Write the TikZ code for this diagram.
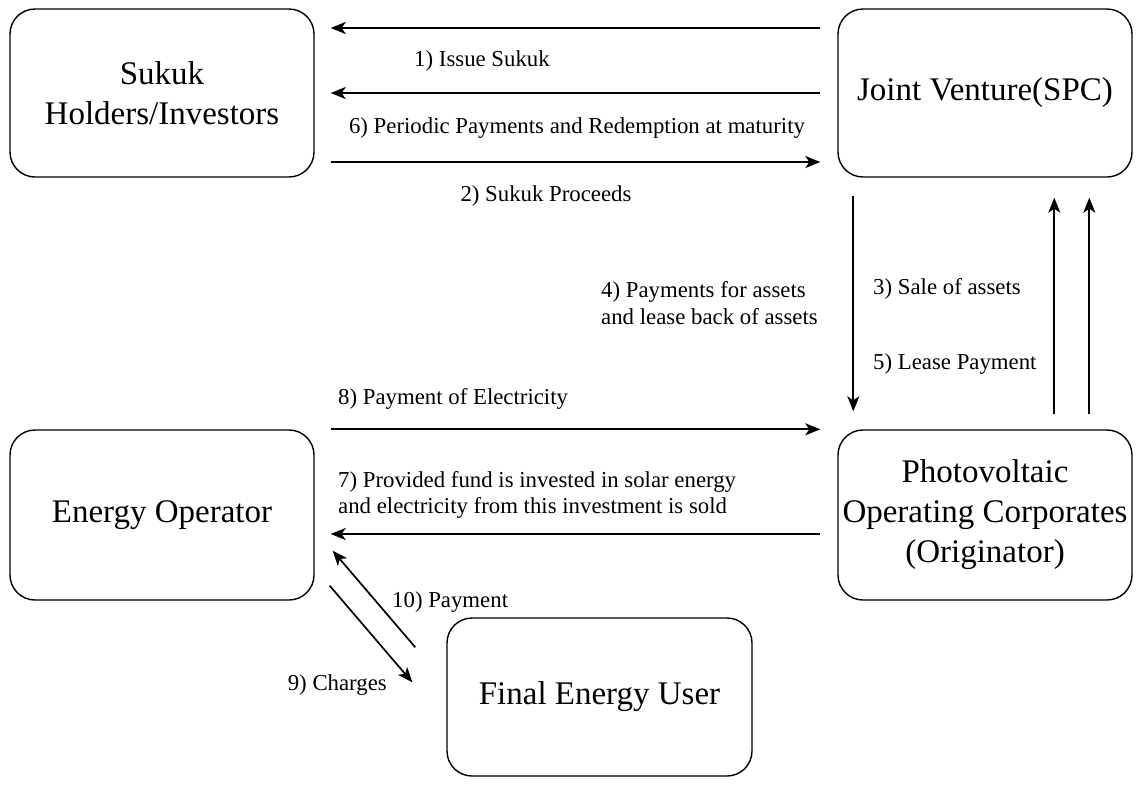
\documentclass[tikz,border=0pt]{standalone}
\usepackage{fontspec}
\setmainfont{Liberation Serif}
\usetikzlibrary{arrows.meta,calc}
\begin{document}
\begin{tikzpicture}[x=1pt,y=-1pt,
  party/.style={draw,line width=1.4pt,rounded corners=25pt,align=center,
    font=\fontsize{33}{40}\selectfont,inner sep=0pt},
  flow/.style={line width=1.7pt,-{Stealth[length=15pt,width=12pt,inset=4pt]}},
  lbl/.style={font=\fontsize{22.8}{26.5}\selectfont,inner sep=0pt}]
\useasboundingbox (0,0) rectangle (1140,785);

% participants
\node[party,minimum width=304pt,minimum height=168pt] (Sukuk) at (162,93) {Sukuk\\Holders/Investors};
\node[party,minimum width=294pt,minimum height=168pt] (JV) at (985,93) {Joint Venture(SPC)};
\node[party,minimum width=304pt,minimum height=170pt] (EO) at (162,515) {Energy Operator};
\node[party,minimum width=294pt,minimum height=170pt] (PV) at (985,515) {Photovoltaic\\Operating Corporates\\(Originator)};
\node[party,minimum width=305pt,minimum height=158pt] (FEU) at (599.5,697) {Final Energy User};

% sukuk issuance and payments
\draw[flow,shorten <=17pt,shorten >=16pt] ([yshift=65pt]JV.west) -- ([yshift=65pt]Sukuk.east);
\draw[flow,shorten <=17pt,shorten >=16pt] (JV.west) -- (Sukuk.east);
\draw[flow,shorten <=16pt,shorten >=17pt] ([yshift=-69pt]Sukuk.east) -- ([yshift=-69pt]JV.west);
\node[lbl] (l1) at (482,61) {1) Issue Sukuk};
\node[lbl] (l6) at (577,128) {6) Periodic Payments and Redemption at maturity};
\node[lbl] (l2) at (546,196) {2) Sukuk Proceeds};

% asset sale and lease
\draw[flow,shorten <=18pt,shorten >=18pt] ([xshift=16pt]JV.south west) -- ([xshift=16pt]PV.north west);
\draw[flow,shorten <=15pt,shorten >=20pt] ([xshift=217pt]PV.north west) -- ([xshift=217pt]JV.south west);
\draw[flow,shorten <=15pt,shorten >=20pt] ([xshift=252pt]PV.north west) -- ([xshift=252pt]JV.south west);
\node[lbl,anchor=west,align=left] (l4) at (601,303) {4) Payments for assets\\and lease back of assets};
\node[lbl,anchor=west] (l3) at (873,289) {3) Sale of assets};
\node[lbl,anchor=west] (l5) at (873,364) {5) Lease Payment};

% electricity flows
\draw[flow,shorten <=16pt,shorten >=17pt] (EO.north east) -- (PV.north west);
\draw[flow,shorten <=17pt,shorten >=16pt] ([yshift=-19pt]PV.west) -- ([yshift=-19pt]EO.east);
\node[lbl,anchor=west] (l8) at (338,399) {8) Payment of Electricity};
\node[lbl,anchor=west,align=left] (l7) at (338,495) {7) Provided fund is invested in solar energy\\and electricity from this investment is sold};

% end user charges and payment
\coordinate (payS) at ($(FEU.north west)+(-31,30)$);
\coordinate (payE) at ($(EO.south east)+(18,-50)$);
\coordinate (chS) at ($(EO.south east)+(15,-15)$);
\coordinate (chE) at ($(FEU.north west)+(-34,65)$);
\draw[flow] (payS) -- (payE);
\draw[flow] (chS) -- (chE);
\node[lbl,anchor=west] (l10) at (392,602) {10) Payment};
\node[lbl,anchor=east] (l9) at (387,685) {9) Charges};
\end{tikzpicture}
\end{document}
